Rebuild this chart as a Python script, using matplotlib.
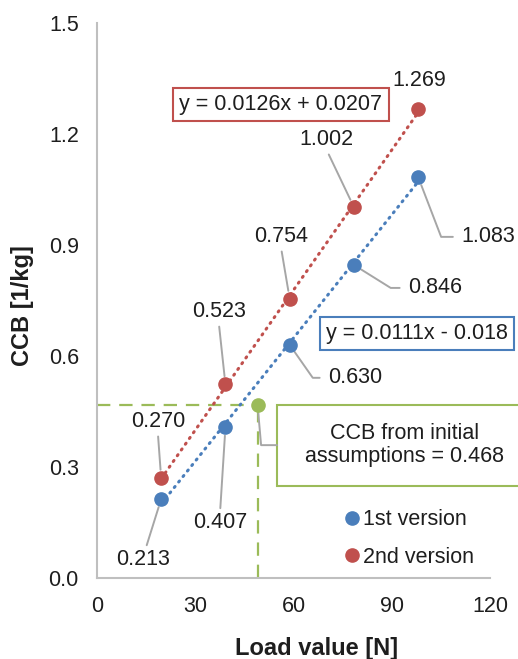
"""CCB versus load value, two calibration versions with linear trendlines."""

import matplotlib as mpl
import matplotlib.pyplot as plt
import numpy as np
from matplotlib.patches import Rectangle

# data
load_n = [19.62, 39.24, 58.86, 78.48, 98.1]
ccb_v1 = [0.213, 0.407, 0.630, 0.846, 1.083]
ccb_v2 = [0.270, 0.523, 0.754, 1.002, 1.269]
init_load = 49.05
init_ccb = 0.468
series_names = ["1st version", "2nd version"]
eq_v1 = "y = 0.0111x - 0.018"
eq_v2 = "y = 0.0126x + 0.0207"
x_ticks = [0, 30, 60, 90, 120]
y_ticks = [0.0, 0.3, 0.6, 0.9, 1.2, 1.5]

BLUE = "#4a7ebb"
RED = "#c0504d"
GREEN = "#9bbb59"
GREY = "#a6a6a6"
INK = "#1e1e1e"
FS = 15.5

mpl.rcParams.update({
    "font.family": ["Liberation Sans", "DejaVu Sans"],
    "font.size": FS,
})

fig = plt.figure(figsize=(5.18, 6.59), dpi=100)
ax = fig.add_axes([0.187, 0.123, 0.759, 0.842])
ax.set_xlim(0, 120)
ax.set_ylim(0, 1.5)
ax.set_xticks(x_ticks)
ax.set_yticks(y_ticks)
ax.set_yticklabels([f"{v:.1f}" for v in y_ticks])
ax.tick_params(length=0, labelsize=FS, colors=INK)
ax.tick_params(axis="y", pad=13)
ax.tick_params(axis="x", pad=13)
for side in ("top", "right"):
    ax.spines[side].set_visible(False)
for side in ("left", "bottom"):
    ax.spines[side].set_color("#bfbfbf")
    ax.spines[side].set_linewidth(1.5)
ax.set_xlabel("Load value [N]", fontweight="bold", fontsize=17, color=INK)
ax.set_ylabel("CCB [1/kg]", fontweight="bold", fontsize=17, color=INK)
ax.xaxis.set_label_coords(0.56, -0.106)
ax.yaxis.set_label_coords(-0.160, 0.49)

# trendlines
xs = np.array(load_n)
for ys, col in ((ccb_v1, BLUE), (ccb_v2, RED)):
    k, b = np.polyfit(xs, ys, 1)
    ax.plot(xs, k * xs + b, color=col, lw=2.2, ls=(0, (0.4, 1.9)),
            dash_capstyle="round", zorder=2)

# initial assumption guides
ax.plot([0, init_load], [init_ccb, init_ccb], color=GREEN, lw=1.6, ls=(0, (6, 4)), zorder=1)
ax.plot([init_load, init_load], [0, init_ccb], color=GREEN, lw=1.6, ls=(0, (6, 4)), zorder=1)

ax.plot(load_n, ccb_v1, "o", color=BLUE, ms=9.5, label=series_names[0], zorder=4)
ax.plot(load_n, ccb_v2, "o", color=RED, ms=9.5, label=series_names[1], zorder=4)
ax.plot([init_load], [init_ccb], "o", color=GREEN, ms=9.5, zorder=4)

# point labels: (text x, text y, leader) ; leader = relpos tuple or bent angle
lab_v1 = [(14.0, 0.049, (0.55, 1)), (37.6, 0.149, (0.5, 1)), (78.8, 0.541, -55),
          (103.2, 0.784, -32), (119.4, 0.922, -69)]
lab_v2 = [(18.6, 0.422, (0.5, 0)), (37.2, 0.719, (0.5, 0)), (56.2, 0.922, (0.5, 0)),
          (70.2, 1.184, (0.5, 0)), (98.3, 1.346, None)]


def label_points(xv, yv, spots):
    for x, y, (tx, ty, lead) in zip(xv, yv, spots):
        text = f"{y:.3f}"
        if lead is None:
            ax.text(tx, ty, text, ha="center", va="center", color=INK)
            continue
        if isinstance(lead, tuple):
            props = dict(arrowstyle="-", color=GREY, lw=1.4, shrinkA=1, shrinkB=6,
                         relpos=lead)
        else:
            props = dict(arrowstyle="-", color=GREY, lw=1.4, shrinkA=4, shrinkB=6,
                         relpos=(0, 0.5),
                         connectionstyle=f"angle,angleA=0,angleB={lead},rad=0")
        ax.annotate(text, (x, y), xytext=(tx, ty), ha="center", va="center",
                    color=INK, arrowprops=props)


label_points(load_n, ccb_v1, lab_v1)
label_points(load_n, ccb_v2, lab_v2)

# equation boxes
ax.text(56.2, 1.281, eq_v2, ha="center", va="center", color=INK,
        bbox=dict(boxstyle="square,pad=0.28", fc="white", ec=RED, lw=1.5))
ax.text(97.7, 0.662, eq_v1, ha="center", va="center", color=INK,
        bbox=dict(boxstyle="square,pad=0.28", fc="white", ec=BLUE, lw=1.5), clip_on=False)

# initial assumption callout
ax.add_patch(Rectangle((55.0, 0.249), 80, 0.219, fc="white", ec=GREEN, lw=1.5,
                       clip_on=False, zorder=3))
ax.text(94.0, 0.359, f"CCB from initial\nassumptions = {init_ccb:.3f}", ha="center",
        va="center", color=INK, linespacing=1.15, zorder=5)
ax.annotate("", (init_load, init_ccb), xytext=(55.0, 0.359),
            arrowprops=dict(arrowstyle="-", color=GREY, lw=1.4, shrinkA=0, shrinkB=6,
                            connectionstyle="angle,angleA=0,angleB=-85,rad=0"))

leg = ax.legend(loc="center left", bbox_to_anchor=(0.614, 0.071), frameon=False,
                handlelength=0.5, handletextpad=0.25, labelspacing=0.75,
                borderaxespad=0, fontsize=FS, markerscale=1.0)
for t in leg.get_texts():
    t.set_color(INK)

fig.savefig("out.png", dpi=100)
